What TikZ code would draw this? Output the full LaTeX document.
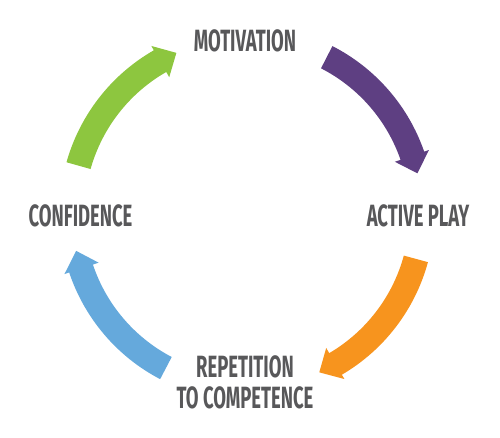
\documentclass[tikz,border=0pt]{standalone}
\usepackage{fontspec}
\usepackage{tikz}
\newfontfamily\cyclefont{Fira Sans}[FakeStretch=0.6]
\definecolor{cyclegreen}{HTML}{8DC63F}
\definecolor{cyclepurple}{HTML}{5E3F82}
\definecolor{cycleorange}{HTML}{F7941E}
\definecolor{cycleblue}{HTML}{65A9DC}
\definecolor{labelgray}{HTML}{58585A}
% curved arrow on the cycle: colour, tail angle, tip angle
\newcommand{\cyclearrow}[3]{%
  \pgfmathsetmacro{\headbase}{#3+6}
  \fill[#1] (#2:3.75) arc[start angle=#2, end angle=\headbase, radius=3.75]
    -- (\headbase:3.85) -- (#3:3.5) -- (\headbase:3.13)
    -- (\headbase:3.25) arc[start angle=\headbase, end angle=#2, radius=3.25] -- cycle;
}

\begin{document}
\begin{tikzpicture}[
  steplabel/.style={text=labelgray, font=\cyclefont\bfseries\fontsize{17.5}{17.6}\selectfont,
    align=center, inner sep=0pt, text depth=0pt}]
\useasboundingbox (-4.94,-4.50) rectangle (5.06,4.26);
\node[steplabel] (motivation) at (-0.04,3.44) {MOTIVATION};
\node[steplabel] (play) at (3.42,-0.06) {ACTIVE PLAY};
\node[steplabel] (repetition) at (-0.04,-3.38) {REPETITION\\TO COMPETENCE};
\node[steplabel] (confidence) at (-3.33,-0.06) {CONFIDENCE};
\cyclearrow{cyclegreen}{164.3}{113.8}
\cyclearrow{cyclepurple}{62.9}{13.1}
\cyclearrow{cycleorange}{-15.2}{-65.6}
\cyclearrow{cycleblue}{-117.6}{-167.5}
\end{tikzpicture}
\end{document}
